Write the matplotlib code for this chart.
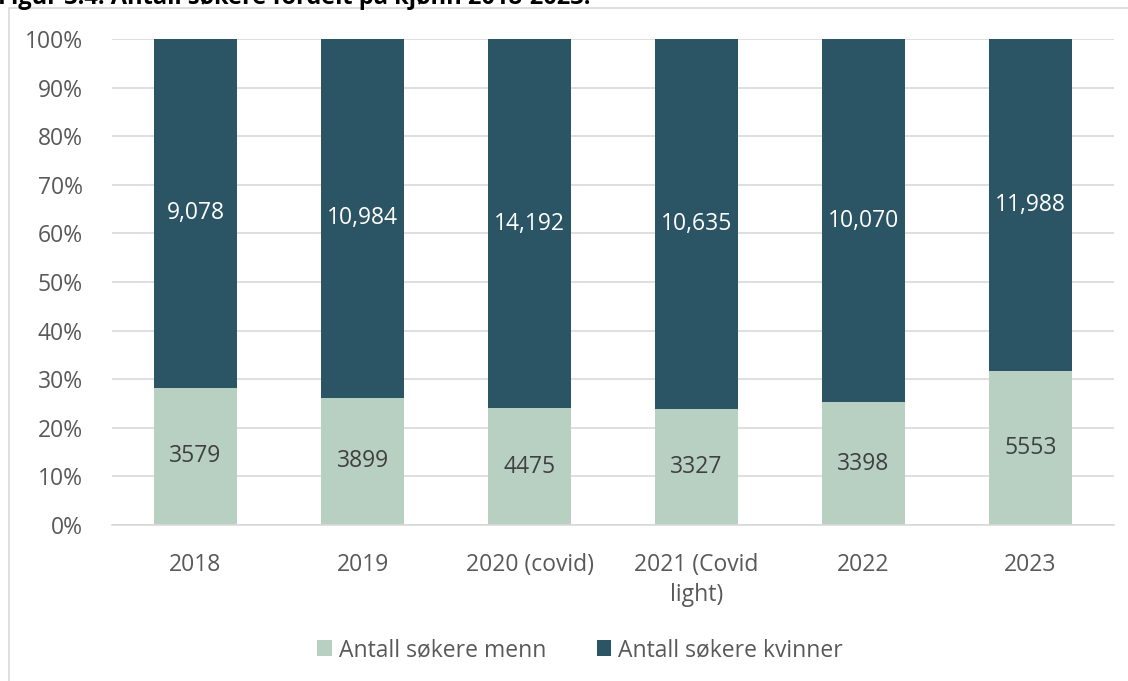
import matplotlib as mpl
mpl.use('Agg')
import matplotlib.pyplot as plt
from matplotlib.patches import Rectangle
from matplotlib.ticker import PercentFormatter

years = ['2018', '2019', '2020 (covid)', '2021 (Covid\nlight)', '2022', '2023']
menn = [3579, 3899, 4475, 3327, 3398, 5553]
kvinner = [9078, 10984, 14192, 10635, 10070, 11988]

light = '#B7D0C1'
dark = '#2B5464'
grey = '#595959'
fs = 16.5

plt.rcParams['font.family'] = ['Open Sans', 'DejaVu Sans']

fig = plt.figure(figsize=(11.28, 6.81), dpi=100)
W, H = 1128, 681

# outer chart frame, running past the right and bottom edges
fig.patches.append(Rectangle((9 / W, -0.05), 1.2, 1 - 8 / H + 0.05,
                             transform=fig.transFigure, fill=False,
                             edgecolor='#D9D9D9', linewidth=1.2))
fig.text(-2 / W, 1 - 4 / H, 'Figur 3.4: Antall søkere fordelt på kjønn 2018-2023.',
         fontsize=17, fontweight='bold', color='black', va='baseline', ha='left')

ax = fig.add_axes([112 / W, 1 - 525 / H, (1114 - 112) / W, (525 - 39) / H])

totals = [m + k for m, k in zip(menn, kvinner)]
p_m = [m / t for m, t in zip(menn, totals)]
p_k = [k / t for k, t in zip(kvinner, totals)]
x = range(len(years))

ax.bar(x, p_m, width=0.5, color=light, label='Antall søkere menn', zorder=2)
ax.bar(x, p_k, width=0.5, bottom=p_m, color=dark, label='Antall søkere kvinner', zorder=2)

for i in x:
    ax.text(i, p_m[i] / 2, f'{menn[i]}', ha='center', va='center',
            fontsize=fs, color='#404040', zorder=3)
    ax.text(i, p_m[i] + p_k[i] / 2, f'{kvinner[i]:,}', ha='center', va='center',
            fontsize=fs, color='white', zorder=3)

ax.set_xlim(-0.5, len(years) - 0.5)
ax.set_ylim(0, 1)
ax.set_yticks([i / 10 for i in range(11)])
ax.yaxis.set_major_formatter(PercentFormatter(1.0, decimals=0))
ax.set_xticks(list(x))
ax.set_xticklabels(years, fontsize=fs, color=grey, linespacing=1.35)
ax.tick_params(axis='y', labelsize=fs, labelcolor=grey, length=0, pad=21)
ax.tick_params(axis='x', length=0, pad=20)
ax.grid(axis='y', color='#D9D9D9', linewidth=1.2, zorder=0)
for s in ['top', 'right', 'left']:
    ax.spines[s].set_visible(False)
ax.spines['bottom'].set_color('#D9D9D9')
ax.spines['bottom'].set_linewidth(1.2)

fig.legend(loc='center', bbox_to_anchor=(580 / W, 1 - 650 / H), ncol=2, frameon=False,
           fontsize=fs, labelcolor=grey, handlelength=0.65, handleheight=0.65,
           handletextpad=0.3, columnspacing=2.2)

fig.savefig('out.png', dpi=100)
